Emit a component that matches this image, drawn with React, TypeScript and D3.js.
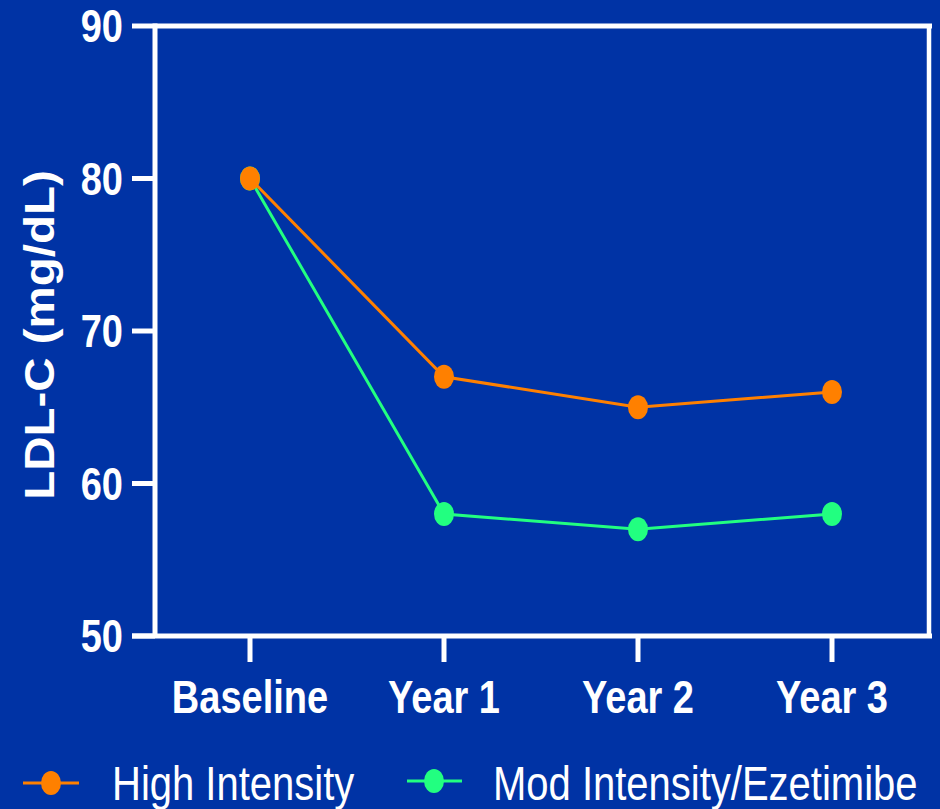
import React from "react";
import * as d3 from "d3";

const categories = ["Baseline", "Year 1", "Year 2", "Year 3"];
const highIntensity = [80, 67, 65, 66];
const modIntensity = [80, 58, 57, 58];
const yTicks = [50, 60, 70, 80, 90];
const seriesNames = ["High Intensity", "Mod Intensity/Ezetimibe"];
const yLabel = "LDL-C (mg/dL)";

const W = 940;
const H = 809;
const BG = "#0033A5";
const ORANGE = "#FF8000";
const GREEN = "#22FF80";
const FONT = "'Liberation Sans', Arial, Helvetica, sans-serif";
const SY = 1.2;

export default function App() {
  const x = d3.scaleBand<string>().domain(categories).range([153, 929]);
  const y = d3.scaleLinear().domain([50, 90]).range([636, 26]);
  const cx = (c: string) => (x(c) as number) + x.bandwidth() / 2;
  const line = d3
    .line<number>()
    .x((_, i) => cx(categories[i]))
    .y((d) => y(d));

  const series = [
    { name: seriesNames[1], values: modIntensity, color: GREEN },
    { name: seriesNames[0], values: highIntensity, color: ORANGE },
  ];

  const x0 = 155;
  const x1 = 929;

  return (
    <svg
      width={W}
      height={H}
      style={{ position: "fixed", left: 0, top: 0, display: "block" }}
      fontFamily={FONT}
    >
      <rect x={0} y={0} width={W} height={H} fill={BG} />
      {/* frame */}
      <line x1={x0} x2={932} y1={y(90)} y2={y(90)} stroke="#fff" strokeWidth={5} />
      <line x1={x1} x2={x1} y1={y(90)} y2={y(50)} stroke="#fff" strokeWidth={4.5} />
      <line x1={x0} x2={x0} y1={y(90) - 2.5} y2={y(50)} stroke="#fff" strokeWidth={5} />
      <line x1={132} x2={932} y1={y(50)} y2={y(50)} stroke="#fff" strokeWidth={5} />
      {/* y ticks */}
      {yTicks.map((t) => (
        <g key={t}>
          <line x1={132} x2={x0} y1={y(t)} y2={y(t)} stroke="#fff" strokeWidth={5} />
          <text
            transform={`translate(123,${y(t)}) scale(1,${SY})`}
            textAnchor="end"
            dy="0.36em"
            fill="#fff"
            fontWeight="bold"
            fontSize={38}
          >
            {t}
          </text>
        </g>
      ))}
      {/* x ticks */}
      {categories.map((c) => (
        <g key={c}>
          <line x1={cx(c)} x2={cx(c)} y1={y(50)} y2={662} stroke="#fff" strokeWidth={5} />
          <text
            transform={`translate(${cx(c)},697) scale(1,${SY})`}
            textAnchor="middle"
            dy="0.36em"
            fill="#fff"
            fontWeight="bold"
            fontSize={38}
          >
            {c}
          </text>
        </g>
      ))}
      {/* y label */}
      <text
        transform={`translate(39,335) scale(1,1.13) rotate(-90)`}
        textAnchor="middle"
        dy="0.36em"
        fill="#fff"
        fontWeight="bold"
        fontSize={42}
      >
        {yLabel}
      </text>
      {/* series */}
      {series.map((s) => (
        <g key={s.name}>
          <path d={line(s.values) || ""} fill="none" stroke={s.color} strokeWidth={3} />
          {s.values.map((v, i) => (
            <ellipse key={i} cx={cx(categories[i])} cy={y(v)} rx={10} ry={12} fill={s.color} />
          ))}
        </g>
      ))}
      {/* legend */}
      {[
        { name: seriesNames[0], color: ORANGE, lx0: 23, lx1: 79, mx: 51, ty: 112, ly: 783 },
        { name: seriesNames[1], color: GREEN, lx0: 407, lx1: 462, mx: 434, ty: 493, ly: 781 },
      ].map((l) => (
        <g key={l.name}>
          <line x1={l.lx0} x2={l.lx1} y1={l.ly} y2={l.ly} stroke={l.color} strokeWidth={3} />
          <ellipse cx={l.mx} cy={l.ly} rx={10} ry={12} fill={l.color} />
          <text
            transform={`translate(${l.ty},782.5) scale(1,${SY})`}
            dy="0.36em"
            fill="#fff"
            fontSize={40}
          >
            {l.name}
          </text>
        </g>
      ))}
    </svg>
  );
}
